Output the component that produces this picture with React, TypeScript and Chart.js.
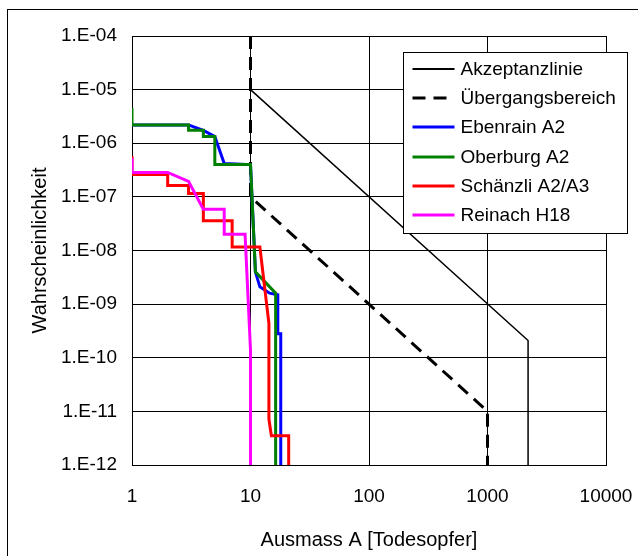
import React, { useEffect, useRef } from 'react';
import { Chart, registerables } from 'chart.js';

Chart.register(...registerables);

const FONT = "'Liberation Sans', Arial, sans-serif";

// Tick positions and labels
const xTickValues = [1, 10, 100, 1000, 10000];
const xTickLabels = ['1', '10', '100', '1000', '10000'];
const yTickValues = [1e-12, 1e-11, 1e-10, 1e-9, 1e-8, 1e-7, 1e-6, 1e-5, 1e-4];
const yTickLabels = ['1.E-12', '1.E-11', '1.E-10', '1.E-09', '1.E-08', '1.E-07', '1.E-06', '1.E-05', '1.E-04'];

// Series
const akzeptanzX = [10, 2200, 2200];
const akzeptanzY = [1e-5, 2.1e-10, 1e-12];

const uebergangX = [10, 10, 1000, 1000];
const uebergangY = [1e-4, 1e-7, 1e-11, 1e-12];

const ebenrainX = [1, 3, 4, 5, 6, 10, 11, 12, 14.5, 17, 17, 18, 18];
const ebenrainY = [2.2e-6, 2.2e-6, 1.73e-6, 1.33e-6, 4.2e-7, 4.0e-7, 4.0e-9, 2.1e-9, 1.6e-9, 1.5e-9, 2.8e-10, 2.8e-10, 1e-12];

const oberburgX = [1, 1, 3, 3, 4, 4, 5, 5, 10, 11, 16.3, 16.3];
const oberburgY = [4.5e-6, 2.2e-6, 2.2e-6, 1.75e-6, 1.75e-6, 1.33e-6, 1.33e-6, 4.0e-7, 4.0e-7, 4.0e-9, 1.6e-9, 1e-12];

const schaenzliX = [1, 1, 2, 2, 3, 3, 4, 4, 7, 7, 12, 14.3, 14.3, 15, 21, 21];
const schaenzliY = [5.8e-7, 2.6e-7, 2.6e-7, 1.63e-7, 1.63e-7, 1.16e-7, 1.16e-7, 3.6e-8, 3.6e-8, 1.16e-8, 1.16e-8, 4.4e-10, 7.2e-12, 3.5e-12, 3.5e-12, 1e-12];

const reinachX = [1, 1, 2, 3, 4, 6, 6, 9, 10, 10];
const reinachY = [5.3e-7, 2.85e-7, 2.85e-7, 1.95e-7, 5.9e-8, 5.9e-8, 2.0e-8, 2.0e-8, 1.4e-10, 1e-12];

const pts = (xs: number[], ys: number[]) => xs.map((x, i) => ({ x, y: ys[i] }));

const framePlugin = {
  id: 'frame',
  beforeDraw(chart: any) {
    const { ctx, width, height } = chart;
    ctx.save();
    ctx.fillStyle = '#fff';
    ctx.fillRect(0, 0, width, height);
    ctx.strokeStyle = '#000';
    ctx.lineWidth = 1;
    ctx.strokeRect(7.5, 9.5, width + 20, height + 20);
    ctx.restore();
  },
};

const legendPlugin = {
  id: 'boxLegend',
  afterDraw(chart: any) {
    const { ctx, chartArea } = chart;
    const boxL = Math.round(chartArea.right - 203) + 0.5;
    const boxT = Math.round(chartArea.top + 16) + 0.5;
    const boxW = 224;
    const boxH = 181;
    ctx.save();
    ctx.fillStyle = '#fff';
    ctx.fillRect(boxL, boxT, boxW, boxH);
    ctx.strokeStyle = '#000';
    ctx.lineWidth = 1;
    ctx.strokeRect(boxL, boxT, boxW, boxH);
    ctx.font = `19px ${FONT}`;
    ctx.textBaseline = 'middle';
    ctx.textAlign = 'left';
    chart.data.datasets.forEach((ds: any, i: number) => {
      const y = Math.round(boxT + 16 + i * 29.34);
      ctx.beginPath();
      ctx.setLineDash(ds.borderDash || []);
      ctx.lineWidth = ds.borderWidth < 2 ? 2 : ds.borderWidth;
      ctx.strokeStyle = ds.borderColor;
      ctx.moveTo(boxL + 9, y);
      ctx.lineTo(boxL + 51, y);
      ctx.stroke();
      ctx.setLineDash([]);
      ctx.fillStyle = '#000';
      ctx.fillText(ds.label, boxL + 57, y + 1);
    });
    ctx.restore();
  },
};

export default function App() {
  const ref = useRef<HTMLCanvasElement | null>(null);

  useEffect(() => {
    if (!ref.current) return;
    const common = { pointRadius: 0, pointHoverRadius: 0, tension: 0, fill: false };
    const chart = new Chart(ref.current, {
      type: 'line',
      data: {
        datasets: [
          { ...common, label: 'Akzeptanzlinie', data: pts(akzeptanzX, akzeptanzY), borderColor: '#000000', borderWidth: 1.5, order: 6 },
          { ...common, label: 'Übergangsbereich', data: pts(uebergangX, uebergangY), borderColor: '#000000', borderWidth: 3, borderDash: [13, 8], order: 5 },
          { ...common, label: 'Ebenrain A2', data: pts(ebenrainX, ebenrainY), borderColor: '#0000FF', borderWidth: 3, order: 4 },
          { ...common, label: 'Oberburg A2', data: pts(oberburgX, oberburgY), borderColor: '#008000', borderWidth: 3, order: 3 },
          { ...common, label: 'Schänzli A2/A3', data: pts(schaenzliX, schaenzliY), borderColor: '#FF0000', borderWidth: 3, order: 2 },
          { ...common, label: 'Reinach H18', data: pts(reinachX, reinachY), borderColor: '#FF00FF', borderWidth: 3, order: 1 },
        ] as any,
      },
      options: {
        animation: false,
        responsive: false,
        maintainAspectRatio: false,
        events: [],
        layout: { padding: { top: 36, right: 32, left: 0, bottom: 0 } },
        plugins: { legend: { display: false }, tooltip: { enabled: false } },
        scales: {
          x: {
            type: 'logarithmic',
            min: 1,
            max: 10000,
            afterFit: (s: any) => {
              s.height = 91;
              s.paddingLeft = 0;
              s.paddingRight = 0;
            },
            afterBuildTicks: (s: any) => { s.ticks = xTickValues.map((v) => ({ value: v })); },
            ticks: {
              autoSkip: false,
              maxRotation: 0,
              padding: 20,
              color: '#000',
              font: { family: FONT, size: 19 },
              callback: (_v: any, i: number) => xTickLabels[i],
            },
            grid: { color: '#000', lineWidth: 1, drawTicks: false },
            border: { display: true, color: '#000', width: 1 },
            title: {
              display: true,
              text: 'Ausmass A [Todesopfer]',
              color: '#000',
              font: { family: FONT, size: 20 },
              padding: { top: 0, bottom: 4 },
            },
          },
          y: {
            type: 'logarithmic',
            min: 1e-12,
            max: 1e-4,
            afterFit: (s: any) => {
              s.width = 132;
              s.paddingTop = 0;
              s.paddingBottom = 0;
            },
            afterBuildTicks: (s: any) => { s.ticks = yTickValues.map((v) => ({ value: v })); },
            ticks: {
              autoSkip: false,
              padding: 15,
              color: '#000',
              font: { family: FONT, size: 19 },
              callback: (_v: any, i: number) => yTickLabels[i],
            },
            grid: { color: '#000', lineWidth: 1, drawTicks: false },
            border: { display: true, color: '#000', width: 1 },
            title: {
              display: true,
              text: 'Wahrscheinlichkeit',
              color: '#000',
              font: { family: FONT, size: 20 },
              padding: { top: 28.3, bottom: 0 },
            },
          },
        },
      } as any,
      plugins: [framePlugin, legendPlugin],
    });
    return () => chart.destroy();
  }, []);

  return (
    <div style={{ position: 'fixed', left: 0, top: 0, width: 638, height: 556, background: '#fff' }}>
      <canvas ref={ref} width={638} height={556} style={{ display: 'block', width: 638, height: 556 }} />
    </div>
  );
}
